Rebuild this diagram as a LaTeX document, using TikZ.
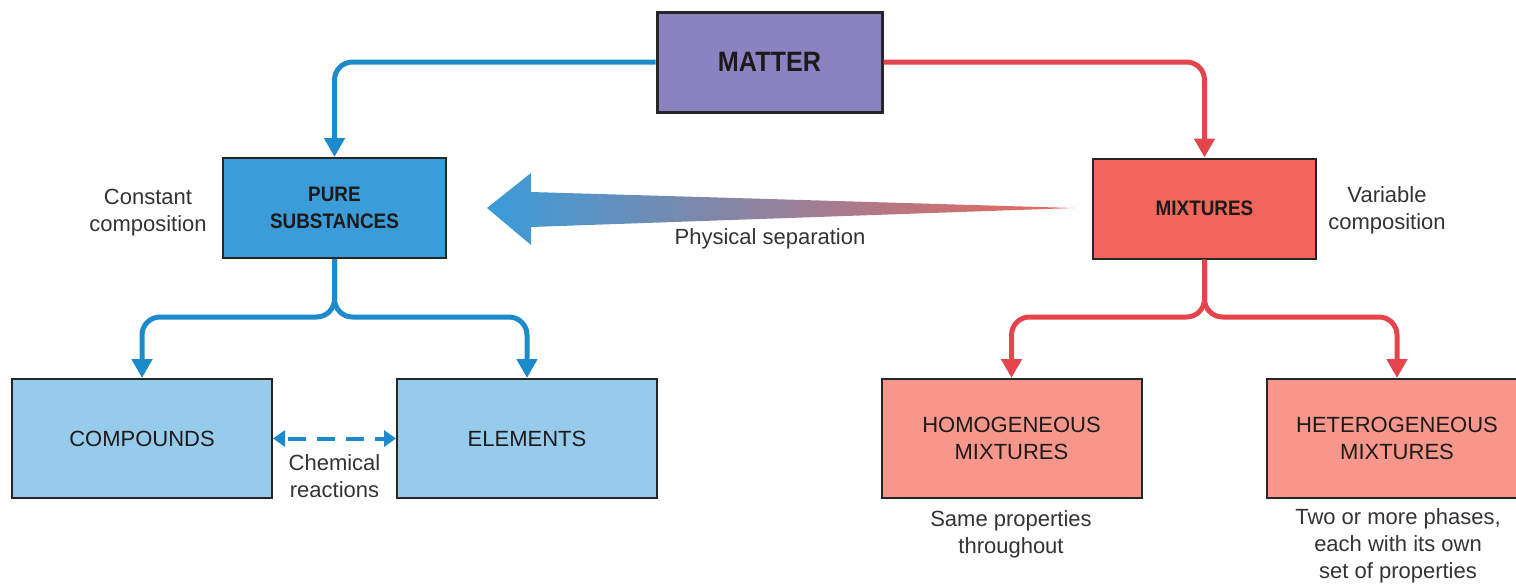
\documentclass[tikz,border=0pt]{standalone}
\usepackage{fontspec}
\setmainfont{Liberation Sans}
\newfontfamily\titlefont{Liberation Sans}[FakeStretch=0.9]
\usetikzlibrary{arrows.meta}

\definecolor{mattercol}{HTML}{8A82C1}
\definecolor{purecol}{HTML}{3A9CD9}
\definecolor{mixcol}{HTML}{F0665B}
\definecolor{lightblue}{HTML}{97CBEC}
\definecolor{lightred}{HTML}{F7978B}
\definecolor{blueline}{HTML}{1D8ACB}
\definecolor{redline}{HTML}{E4444B}
\definecolor{boxtext}{HTML}{1E1A1A}
\definecolor{captext}{HTML}{333333}

\begin{document}
\begin{tikzpicture}[x=0.5pt,y=-0.5pt,
    box/.style={draw=black!85, line width=1pt, inner sep=0pt, align=center, text=boxtext},
    topbox/.style={box, minimum width=111.5pt, minimum height=50pt,
      font=\titlefont\bfseries\fontsize{10.5}{13.5}\selectfont},
    lowbox/.style={box, minimum width=130pt, minimum height=59.5pt,
      font=\fontsize{11}{13.5}\selectfont},
    caption/.style={align=center, text=captext, font=\fontsize{11}{13.5}\selectfont},
    blueflow/.style={draw=blueline, line width=2.5pt, rounded corners=9pt,
      -{Triangle[width=10pt,length=9.5pt]}},
    redflow/.style={blueflow, draw=redline}]
        \useasboundingbox (0,0) rectangle (1516,584);

        \node[topbox, fill=mattercol, line width=1.5pt, minimum width=112.5pt,
          font=\titlefont\bfseries\fontsize{14}{16}\selectfont] (matter) at (769.5,62) {MATTER};
        \node[topbox, fill=purecol] (pure) at (334.5,208) {PURE\\SUBSTANCES};
        \node[topbox, fill=mixcol] (mixtures) at (1204.5,208.5) {MIXTURES};
        \node[lowbox, fill=lightblue] (compounds) at (142,438.5) {COMPOUNDS};
        \node[lowbox, fill=lightblue] (elements) at (527,438.5) {ELEMENTS};
        \node[lowbox, fill=lightred] (homog) at (1011.5,438.5) {HOMOGENEOUS\\MIXTURES};
        \node[lowbox, fill=lightred] (heterog) at (1397,438.5) {HETEROGENEOUS\\MIXTURES};

        \coordinate (split) at (0,317);
        \draw[blueflow] (matter.west) -| (pure.north);
        \draw[redflow] (matter.east) -| (mixtures.north);
        \draw[blueflow] (pure.south) |- (compounds.north |- split) -- (compounds.north);
        \draw[blueflow] (pure.south) |- (elements.north |- split) -- (elements.north);
        \draw[redflow] (mixtures.south) |- (homog.north |- split) -- (homog.north);
        \draw[redflow] (mixtures.south) |- (heterog.north |- split) -- (heterog.north);

        \draw[blueline, line width=2pt, dash pattern=on 9pt off 5.5pt, dash phase=-2pt,
          {Triangle[width=8pt,length=6pt]}-{Triangle[width=8pt,length=6pt]}]
          (compounds.east) -- (elements.west);

        % physical separation arrow
        \shade[left color=purecol, right color=mixcol]
          (487,208) -- (531,173) -- (531,192) -- (1074,208) -- (531,227) -- (531,245) -- cycle;

        \node[caption] (sep) at (770,239) {Physical separation};
        \node[caption] (constcomp) at (148,213) {Constant\\composition};
        \node[caption] (varcomp) at (1387,210) {Variable\\composition};
        \node[caption] (chem) at (334.5,476) {Chemical\\reactions};
        \node[caption] (same) at (1011,534) {Same properties\\throughout};
        \node[caption] (phases) at (1398,546) {Two or more phases,\\each with its own\\set of properties};
    \end{tikzpicture}
\end{document}
